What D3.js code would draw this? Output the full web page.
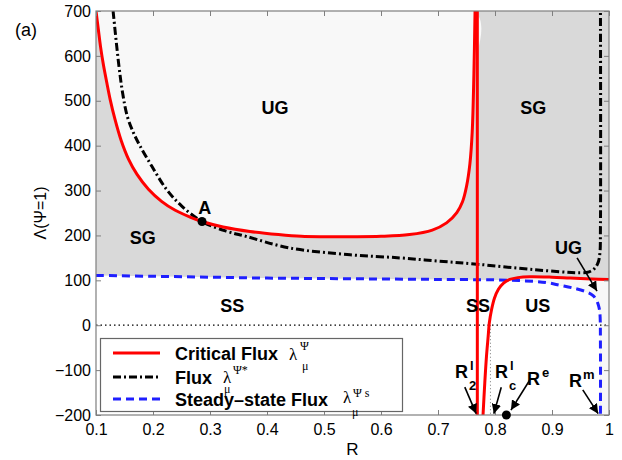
<!DOCTYPE html>
<html lang="en">
<head>
<meta charset="UTF-8">
<title>Critical flux diagram</title>
<script src="https://d3js.org/d3.v7.min.js"></script>
<style>
    body { margin: 0; background: #fff; }
    svg { display: block; font-family: "Liberation Sans", Arial, Helvetica, sans-serif; }
    .axis text { font-size: 16px; fill: #000; }
    .axis line { stroke: #7f7f7f; }
    .axis path { display: none; }
    .region { font-size: 18px; font-weight: bold; text-anchor: middle; }
    .legend-text { font-size: 18px; font-weight: bold; }
    .greek { font-family: "Liberation Serif", "DejaVu Serif", serif; }
</style>
</head>
<body>
<svg id="chart" width="622" height="460"></svg>
<script>
    // tick values
    const xTicks = [0.1, 0.2, 0.3, 0.4, 0.5, 0.6, 0.7, 0.8, 0.9, 1];
    const yTicks = [-200, -100, 0, 100, 200, 300, 400, 500, 600, 700];

    // critical flux, left branch (up to the asymptote)
    const critLeftR = [0.100, 0.104, 0.108, 0.113, 0.119, 0.125, 0.133, 0.144, 0.157, 0.172, 0.192, 0.215, 0.239, 0.265, 0.286, 0.323, 0.370, 0.420, 0.460, 0.500, 0.550, 0.600, 0.650, 0.690, 0.715, 0.733, 0.743, 0.750, 0.756, 0.760, 0.763, 0.765];
    const critLeftV = [700, 660, 620, 580, 540, 502, 460, 412, 370, 336, 303, 276, 256, 241, 231, 219, 209, 202, 198, 197, 197, 198, 202, 212, 228, 251, 275, 309, 360, 430, 560, 700];
    // critical flux, vertical branch
    const critMidR = [0.769, 0.769];
    const critMidV = [700, -200];
    // critical flux, right branch
    const critRightR = [0.779, 0.782, 0.785, 0.788, 0.790, 0.794, 0.799, 0.806, 0.815, 0.826, 0.840, 0.861, 0.900, 0.932, 0.970, 1.000];
    const critRightV = [-200, -130, -70, -25, 5, 35, 60, 80, 94, 102, 106, 108, 107, 105, 103, 102];

    // flux lambda*
    const fluxR = [0.130, 0.140, 0.147, 0.155, 0.166, 0.177, 0.198, 0.224, 0.250, 0.286, 0.330, 0.363, 0.440, 0.546, 0.633, 0.700, 0.768, 0.867, 0.949, 0.965, 0.975, 0.981, 0.984, 0.985, 0.985];
    const fluxV = [700, 580, 515, 465, 428, 400, 354, 302, 266, 231, 209, 198, 172, 157, 150, 143, 136, 124, 117, 119, 127, 140, 160, 220, 700];

    // steady-state flux
    const steadyR = [0.100, 0.200, 0.300, 0.400, 0.500, 0.600, 0.700, 0.800, 0.850, 0.890, 0.914, 0.940, 0.961, 0.972, 0.978, 0.982, 0.984, 0.985, 0.985];
    const steadyV = [111, 109, 107, 105, 104, 103, 102, 101, 99, 95, 89, 82, 74, 66, 56, 42, 27, -50, -200];

    // marked points
    const pointR = [0.286, 0.82];
    const pointV = [231, -200];

    const svg = d3.select("#chart");
    const x = d3.scaleLinear().domain([0.1, 1]).range([96, 609]);
    const y = d3.scaleLinear().domain([-200, 700]).range([415, 11]);

    const zip = (rs, vs) => rs.map((r, i) => [r, vs[i]]);
    const critLeft = zip(critLeftR, critLeftV);
    const critMid = zip(critMidR, critMidV);
    const critRight = zip(critRightR, critRightV);
    const flux = zip(fluxR, fluxV);
    const steady = zip(steadyR, steadyV);

    svg.append("defs").append("clipPath").attr("id", "plot-clip")
        .append("rect")
        .attr("x", x(0.1)).attr("y", y(700))
        .attr("width", x(1) - x(0.1)).attr("height", y(-200) - y(700));

    svg.select("defs").append("marker")
        .attr("id", "arrow")
        .attr("viewBox", "0 0 10 10")
        .attr("refX", 10).attr("refY", 5)
        .attr("markerWidth", 6).attr("markerHeight", 6)
        .attr("markerUnits", "strokeWidth")
        .attr("orient", "auto")
        .append("path").attr("d", "M0,0 L10,5 L0,10 z").attr("fill", "#000");

    const plot = svg.append("g").attr("clip-path", "url(#plot-clip)");
    const poly = d3.line().x(d => x(d[0])).y(d => y(d[1]));
    const smooth = d3.line().x(d => x(d[0])).y(d => y(d[1])).curve(d3.curveCatmullRom.alpha(0.5));

    // shaded regions
    plot.append("path")
        .attr("d", poly([[0.1, 700], ...steady, [1, -200], [1, 700]]) + "Z")
        .attr("fill", "#d9d9d9");
    const cornerTop = critRight.filter(d => d[0] >= 0.826);
    const cornerBottom = steady.filter(d => d[0] >= 0.826).reverse();
    plot.append("path")
        .attr("d", poly([...cornerTop, [1, -200], ...cornerBottom]) + "Z")
        .attr("fill", "#f7f7f7");
    plot.append("path")
        .attr("d", smooth([...critLeft, [0.1, 700]]) + "Z")
        .attr("fill", "#f8f8f8");

    // zero line and R_c marker
    plot.append("line")
        .attr("x1", x(0.1)).attr("x2", x(1)).attr("y1", y(0)).attr("y2", y(0))
        .attr("stroke", "#000").attr("stroke-width", 1.3).attr("stroke-dasharray", "1.5,3");
    plot.append("line")
        .attr("x1", x(0.792)).attr("x2", x(0.792)).attr("y1", y(0)).attr("y2", y(-200))
        .attr("stroke", "#777").attr("stroke-width", 1).attr("stroke-dasharray", "1,2.5");

    // curves
    plot.append("path").attr("d", smooth(steady))
        .attr("fill", "none").attr("stroke", "#1f1fff").attr("stroke-width", 3)
        .attr("stroke-dasharray", "8,5");
    plot.append("path").attr("d", smooth(flux))
        .attr("fill", "none").attr("stroke", "#000").attr("stroke-width", 3)
        .attr("stroke-dasharray", "8,3,2,3");
    [critLeft, critMid, critRight].forEach(seg => {
        plot.append("path").attr("d", smooth(seg))
            .attr("fill", "none").attr("stroke", "#ff0000").attr("stroke-width", 3);
    });

    // axes (ticks inside, mirrored)
    const fmt = d3.format("~g");
    svg.append("g").attr("class", "axis").attr("transform", `translate(0,${y(-200)})`)
        .call(d3.axisBottom(x).tickValues(xTicks).tickSize(-5).tickPadding(9).tickFormat(fmt));
    svg.append("g").attr("class", "axis").attr("transform", `translate(0,${y(700)})`)
        .call(d3.axisTop(x).tickValues(xTicks).tickSize(-5).tickFormat(""));
    svg.append("g").attr("class", "axis").attr("transform", `translate(${x(0.1)},0)`)
        .call(d3.axisLeft(y).tickValues(yTicks).tickSize(-5).tickPadding(5).tickFormat(fmt));
    svg.append("g").attr("class", "axis").attr("transform", `translate(${x(1)},0)`)
        .call(d3.axisRight(y).tickValues(yTicks).tickSize(-5).tickFormat(""));
    svg.append("rect")
        .attr("x", x(0.1)).attr("y", y(700))
        .attr("width", x(1) - x(0.1)).attr("height", y(-200) - y(700))
        .attr("fill", "none").attr("stroke", "#7f7f7f").attr("stroke-width", 1.2);

    // legend
    const lg = svg.append("g");
    lg.append("rect").attr("x", 100.5).attr("y", 338.5).attr("width", 302).attr("height", 73)
        .attr("fill", "#fff").attr("stroke", "#666").attr("stroke-width", 1.2);
    const rows = [
        { y: 353, color: "#ff0000", dash: null, text: "Critical Flux" },
        { y: 377, color: "#000", dash: "8,3,2,3", text: "Flux" },
        { y: 399, color: "#1f1fff", dash: "8,5", text: "Steady–state Flux" }
    ];
    rows.forEach(r => {
        lg.append("line").attr("x1", 113).attr("x2", 160).attr("y1", r.y).attr("y2", r.y)
            .attr("stroke", r.color).attr("stroke-width", 3).attr("stroke-dasharray", r.dash);
        lg.append("text").attr("class", "legend-text").attr("x", 175).attr("y", r.y + 6.5).text(r.text);
    });
    const greek = [
        { x: 289, y: 360, s: 17, t: "λ" }, { x: 300, y: 350, s: 12, t: "Ψ" }, { x: 302, y: 370, s: 12, t: "μ" },
        { x: 223, y: 383, s: 17, t: "λ" }, { x: 233, y: 374, s: 12, t: "Ψ*" }, { x: 224, y: 393, s: 12, t: "μ" },
        { x: 343, y: 403, s: 17, t: "λ" }, { x: 353, y: 397, s: 12, t: "Ψ s" }, { x: 352, y: 416, s: 12, t: "μ" }
    ];
    greek.forEach(g => {
        lg.append("text").attr("class", "greek").attr("x", g.x).attr("y", g.y)
            .style("font-size", g.s + "px").text(g.t);
    });

    // points
    svg.selectAll(".pt").data(zip(pointR, pointV)).enter().append("circle")
        .attr("class", "pt")
        .attr("cx", d => x(d[0])).attr("cy", d => y(d[1])).attr("r", 4.5).attr("fill", "#000");

    // region labels
    const regions = [
        { r: 0.414, v: 484, t: "UG" }, { r: 0.867, v: 486, t: "SG" },
        { r: 0.182, v: 196, t: "SG" }, { r: 0.339, v: 45, t: "SS" },
        { r: 0.770, v: 45, t: "SS" }, { r: 0.875, v: 45, t: "US" },
        { r: 0.291, v: 263, t: "A" }, { r: 0.929, v: 172, t: "UG" }
    ];
    svg.selectAll(".region").data(regions).enter().append("text")
        .attr("class", "region")
        .attr("x", d => x(d.r)).attr("y", d => y(d.v)).attr("dy", "0.36em").text(d => d.t);

    // R annotations
    const notes = [
        { x: 455, y: 378, sup: "l", sub: "2", supX: 470, subX: 469 },
        { x: 495, y: 378, sup: "l", sub: "c", supX: 510, subX: 509 },
        { x: 527, y: 385, sup: "e", sub: null, supX: 542 },
        { x: 569, y: 387, sup: "m", sub: null, supX: 583 }
    ];
    notes.forEach(n => {
        svg.append("text").attr("x", n.x).attr("y", n.y)
            .style("font-size", "18px").style("font-weight", "bold").text("R");
        svg.append("text").attr("x", n.supX).attr("y", n.y - 8)
            .style("font-size", "13px").style("font-weight", "bold").text(n.sup);
        if (n.sub) {
            svg.append("text").attr("x", n.subX).attr("y", n.y + 12)
                .style("font-size", "13px").style("font-weight", "bold").text(n.sub);
        }
    });
    const arrows = [
        [[0.747, -138], [0.767, -197]],
        [[0.811, -138], [0.798, -197]],
        [[0.861, -122], [0.828, -189]],
        [[0.954, -144], [0.981, -197]],
        [[0.944, 150], [0.979, 76]]
    ];
    arrows.forEach(a => {
        svg.append("line")
            .attr("x1", x(a[0][0])).attr("y1", y(a[0][1]))
            .attr("x2", x(a[1][0])).attr("y2", y(a[1][1]))
            .attr("stroke", "#000").attr("stroke-width", 1.6)
            .attr("marker-end", "url(#arrow)");
    });

    // titles
    svg.append("text").attr("x", 15).attr("y", 36).style("font-size", "18px").text("(a)");
    svg.append("text").attr("x", x(0.55)).attr("y", 455).attr("text-anchor", "middle")
        .style("font-size", "17px").text("R");
    svg.append("text").attr("transform", "translate(46,213) rotate(-90)").attr("text-anchor", "middle")
        .style("font-size", "16px").text("Λ(Ψ=1)");
</script>
</body>
</html>
